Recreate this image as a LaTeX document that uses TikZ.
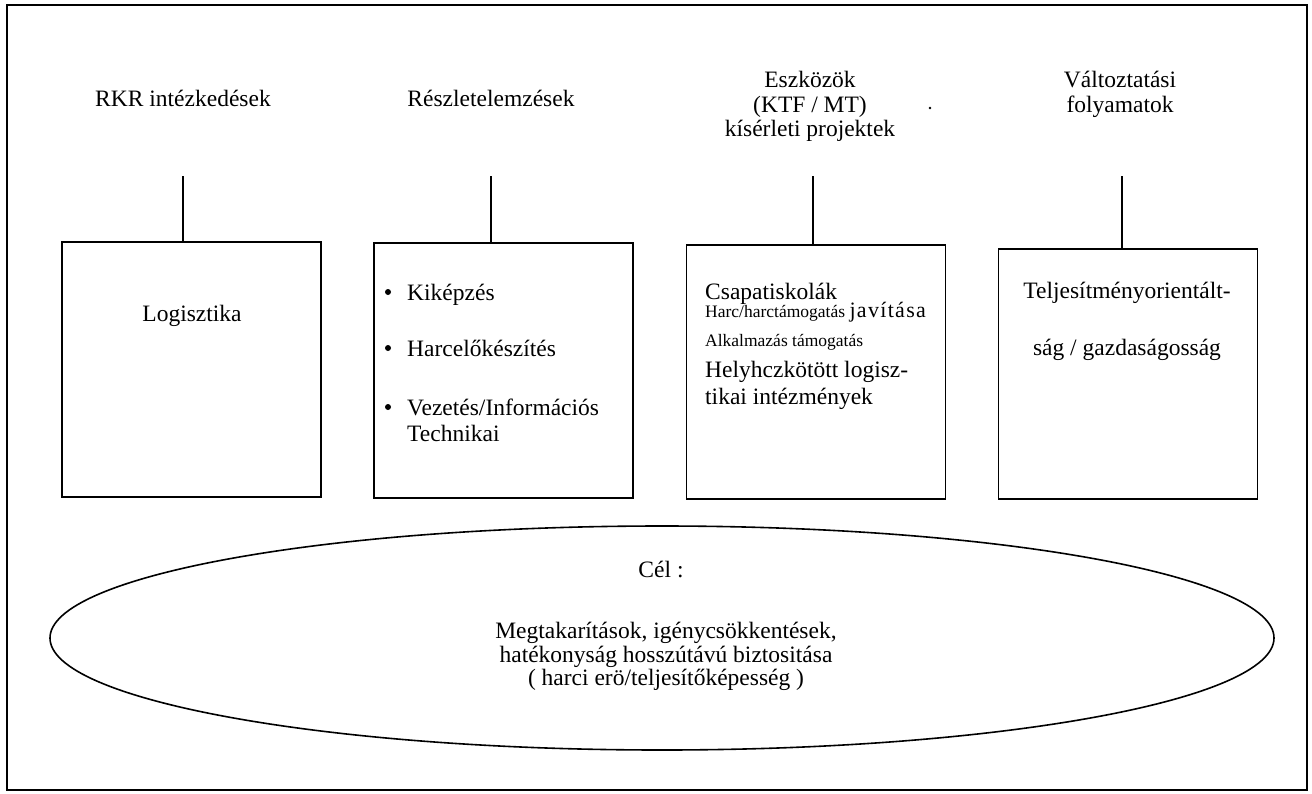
\documentclass[tikz,border=0pt]{standalone}
\usepackage{fontspec}
\setmainfont{Liberation Serif}
\usetikzlibrary{shapes.geometric}
\begin{document}
\begin{tikzpicture}[x=1pt,y=-1pt,
  frame/.style={draw=black, line width=1.8pt},
  box/.style={draw=black, line width=1.6pt, rectangle, minimum width=259pt, outer sep=0pt},
  link/.style={draw=black, line width=1.3pt},
  head/.style={font=\fontsize{23.5}{26}\selectfont, anchor=base, inner sep=0pt},
  txt/.style={font=\fontsize{23.5}{26}\selectfont, anchor=base west, inner sep=0pt},
  small/.style={font=\fontsize{17.5}{19}\selectfont, anchor=base west, inner sep=0pt},
  dot/.style={circle, fill=black, inner sep=0pt, minimum size=6pt},
  goal/.style={draw=black, line width=1.6pt, ellipse, minimum width=1224pt, minimum height=224pt, outer sep=0pt}]
\useasboundingbox (0,0) rectangle (1312,793);
\fill[white] (0,0) rectangle (1312,793);
\draw[frame] (7,5) rectangle (1307,790);

% column headings
\node[head] (h1) at (183,106) {RKR intézkedések};
\node[head] (h2) at (491,106) {Részletelemzések};
\node[head] (h3a) at (810,87) {Eszközök};
\node[head] (h3b) at (810,112) {(KTF / MT)};
\node[head] (h3c) at (810,136) {kísérleti projektek};
\node[head] (h4a) at (1120,87) {Változtatási};
\node[head] (h4b) at (1120,112) {folyamatok};
\fill (930,108) circle (1.4);

% the four boxes
\node[box, minimum height=255pt] (b1) at (191.5,369.5) {};
\node[box, minimum height=255pt] (b2) at (503.5,370.5) {};
\node[box, minimum height=254pt] (b3) at (816,372) {};
\node[box, minimum height=250pt] (b4) at (1128,374) {};

% connectors from headings to boxes
\coordinate (t1) at (183,176);
\coordinate (t2) at (491,176);
\coordinate (t3) at (813,176);
\coordinate (t4) at (1122,176);
\draw[link] (t1) -- (t1 |- b1.north);
\draw[link] (t2) -- (t2 |- b2.north);
\draw[link] (t3) -- (t3 |- b3.north);
\draw[link] (t4) -- (t4 |- b4.north);

% box contents
\node[head] (l1) at (192,321) {Logisztika};

\node[dot] (d1) at (388,292) {};
\node[dot] (d2) at (388,348) {};
\node[dot] (d3) at (388,407) {};
\node[txt] (k1) at (407,300) {Kiképzés};
\node[txt] (k2) at (407,356) {Harcelőkészítés};
\node[txt] (k3) at (407,415) {Vezetés/Információs};
\node[txt] (k4) at (407,441) {Technikai};

\node[txt] (c1) at (705,299) {Csapatiskolák};
\node[small] (c2) at (705,317) {Harc/harctámogatás {\fontsize{22}{24}\selectfont\addfontfeature{LetterSpace=6}javítása}};
\node[small] (c3) at (705,346) {Alkalmazás támogatás};
\node[txt] (c4) at (705,377) {Helyhczkötött logisz-};
\node[txt] (c5) at (705,404) {tikai intézmények};

\node[head] (p1) at (1127,298) {Teljesítményorientált-};
\node[head] (p2) at (1127,355) {ság / gazdaságosság};

% goal ellipse
\node[goal] (g) at (662,638) {};
\node[head] (g0) at (661,577) {Cél :};
\node[head] (g1) at (666,638) {Megtakarítások, igénycsökkentések,};
\node[head] (g2) at (666,662) {hatékonyság hosszútávú biztositása};
\node[head] (g3) at (666,685) {( harci erö/teljesítőképesség )};
\end{tikzpicture}
\end{document}
